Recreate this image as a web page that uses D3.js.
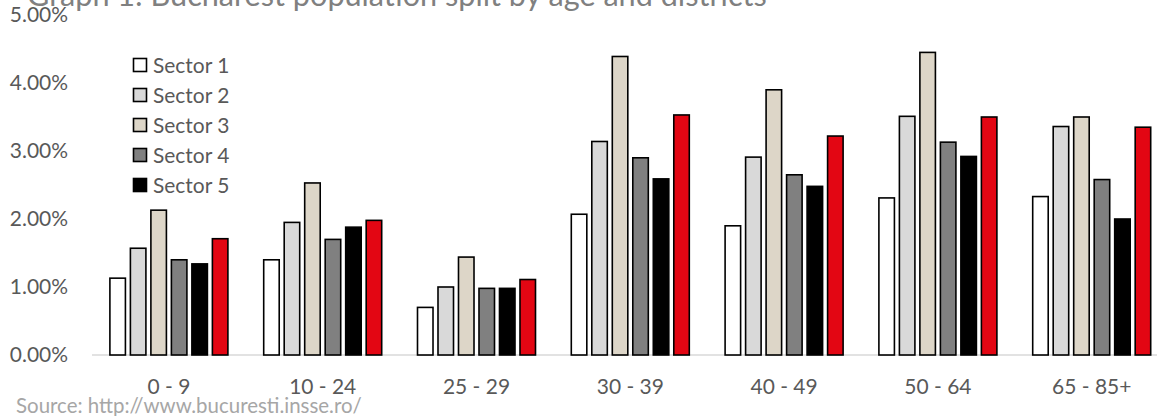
<!DOCTYPE html>
<html>
<head>
<meta charset="utf-8">
<script src="https://cdn.jsdelivr.net/npm/d3@7"></script>
<style>
  html, body { margin: 0; padding: 0; background: #fff; }
  svg { display: block; font-family: Lato, "Open Sans", sans-serif; }
</style>
</head>
<body>
<svg id="chart" width="1157" height="416"></svg>
<script>
const categories = ["0 - 9", "10 - 24", "25 - 29", "30 - 39", "40 - 49", "50 - 64", "65 - 85+"];
const seriesNames = ["Sector 1", "Sector 2", "Sector 3", "Sector 4", "Sector 5", "Sector 6"];
const sector1 = [1.13, 1.40, 0.70, 2.07, 1.90, 2.31, 2.33];
const sector2 = [1.57, 1.95, 1.00, 3.14, 2.91, 3.51, 3.36];
const sector3 = [2.13, 2.53, 1.44, 4.39, 3.90, 4.45, 3.50];
const sector4 = [1.40, 1.70, 0.98, 2.90, 2.65, 3.13, 2.58];
const sector5 = [1.34, 1.88, 0.98, 2.59, 2.48, 2.92, 2.00];
const sector6 = [1.71, 1.98, 1.11, 3.53, 3.22, 3.50, 3.35];
const yTicks = [0, 1, 2, 3, 4, 5];
const legendShown = ["Sector 1", "Sector 2", "Sector 3", "Sector 4", "Sector 5"];
const titleText = "Graph 1: Bucharest population split by age and districts";
const sourceText = "Source: http://www.bucuresti.insse.ro/";

const seriesValues = [sector1, sector2, sector3, sector4, sector5, sector6];
const colors = ["#ffffff", "#d9d9d9", "#ddd6c8", "#808080", "#000000", "#e30613"];

const svg = d3.select("#chart");
const W = 1157;

// font size that makes a sample string a target width
function fitSize(str, targetW) {
  const tmp = svg.append("text").attr("font-size", 100).text(str);
  const w = tmp.node().getComputedTextLength();
  tmp.remove();
  return 100 * targetW / w;
}
const labelSize = (fitSize("Sector 1", 80) + fitSize("1.00%", 58) + fitSize("65 - 85+", 76)) / 3;

const plotLeft = 92, stepW = 153.8;
const x0 = d3.scaleBand().domain(categories)
  .range([plotLeft, plotLeft + stepW * categories.length])
  .paddingInner(0.223).paddingOuter(0.1115);
const x1 = d3.scaleBand().domain(seriesNames)
  .range([0, x0.bandwidth()]).paddingInner(0.17).paddingOuter(0);
const y = d3.scaleLinear().domain([0, 5]).range([355, 15]);

// baseline axis line
svg.append("line")
  .attr("x1", plotLeft).attr("x2", W)
  .attr("y1", y(0)).attr("y2", y(0))
  .attr("stroke", "#d9d9d9").attr("stroke-width", 1.5);

// Y axis labels
const yAxis = d3.axisLeft(y).tickValues(yTicks)
  .tickFormat(d => d.toFixed(2) + "%").tickSize(0).tickPadding(0);
const yg = svg.append("g").attr("transform", "translate(68,0)").call(yAxis);
yg.select(".domain").remove();
yg.selectAll("text").attr("fill", "#595959").attr("font-size", labelSize)
  .attr("font-family", "Lato, sans-serif");

// bars
const groups = svg.append("g").selectAll("g")
  .data(categories).join("g")
  .attr("transform", d => `translate(${x0(d)},0)`);
groups.selectAll("rect")
  .data((c, i) => seriesNames.map((s, j) => ({ s, j, v: seriesValues[j][i] })))
  .join("rect")
  .attr("x", d => x1(d.s) + 0.75)
  .attr("width", x1.bandwidth() - 1.5)
  .attr("y", d => y(d.v))
  .attr("height", d => y(0) - y(d.v))
  .attr("fill", d => colors[d.j])
  .attr("stroke", "#000").attr("stroke-width", 1.6);

// X axis labels
const xAxis = d3.axisBottom(x0).tickSize(0).tickPadding(0);
const xg = svg.append("g").attr("transform", "translate(0,379)").call(xAxis);
xg.select(".domain").remove();
xg.selectAll("text").attr("fill", "#595959").attr("font-size", labelSize)
  .attr("font-family", "Lato, sans-serif").attr("dy", "0.71em");

// Legend
const lg = svg.append("g").attr("transform", "translate(133,58)");
const items = lg.selectAll("g").data(legendShown).join("g")
  .attr("transform", (d, i) => `translate(0,${i * 30})`);
items.append("rect")
  .attr("x", 0.5).attr("y", 0.5).attr("width", 13).attr("height", 13)
  .attr("fill", d => colors[seriesNames.indexOf(d)])
  .attr("stroke", "#000").attr("stroke-width", 1.6);
items.append("text")
  .attr("x", 20).attr("y", 7).attr("dy", "0.36em")
  .attr("fill", "#595959").attr("font-size", labelSize)
  .text(d => d);

// Title (clipped at top, as in the reference)
svg.append("text").attr("x", 27).attr("y", 6)
  .attr("fill", "#808080").attr("font-size", fitSize(titleText, 740))
  .text(titleText);

// Source
svg.append("text").attr("x", 16).attr("y", 413)
  .attr("fill", "#a6a6a6").attr("font-size", fitSize(sourceText, 346))
  .text(sourceText);
</script>
</body>
</html>
